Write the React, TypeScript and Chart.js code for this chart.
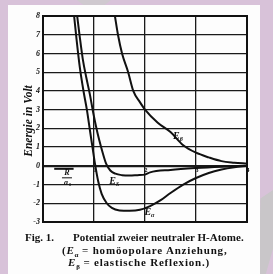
import React, { useEffect, useRef } from "react";
import { Chart, registerables } from "chart.js";
Chart.register(...registerables);

// E_alpha: homöopolare Anziehung
const alphaX = [0.61, 0.66, 0.72, 0.8, 0.86, 0.92, 0.97, 1.02, 1.08, 1.15, 1.25, 1.35, 1.5, 1.7, 1.9, 2.1, 2.3, 2.5, 2.75, 3.0, 3.25, 3.5, 3.75, 4.0];
const alphaY = [8, 6.7, 5.3, 3.9, 3.0, 1.9, 1.0, 0.1, -0.8, -1.5, -2.0, -2.25, -2.38, -2.4, -2.35, -2.15, -1.85, -1.45, -1.0, -0.65, -0.38, -0.2, -0.08, 0];
// E_S
const sX = [0.67, 0.72, 0.78, 0.85, 0.92, 0.98, 1.04, 1.1, 1.17, 1.24, 1.32, 1.42, 1.55, 1.7, 1.85, 2.0, 2.1, 2.5, 3.0, 3.5, 4.0];
const sY = [8, 6.9, 5.7, 4.7, 3.8, 2.9, 2.1, 1.4, 0.7, 0.1, -0.25, -0.42, -0.5, -0.52, -0.5, -0.47, -0.35, -0.22, -0.12, -0.05, 0];
// E_beta: elastische Reflexion
const betaX = [1.41, 1.47, 1.55, 1.67, 1.77, 1.9, 2.0, 2.25, 2.5, 2.75, 3.0, 3.25, 3.5, 3.75, 4.0];
const betaY = [8, 7, 6, 5, 4, 3.4, 3.0, 2.3, 1.8, 1.1, 0.7, 0.45, 0.25, 0.17, 0.12];

const yMin = -3;
const yMax = 8;
const xMin = 0;
const xMax = 4;
const xTickValues = [1, 2, 3, 4];
const xTickLabels = ["1", "2", "3", "4"];
const yTitle = "Energie in Volt";
const curveLabels = [
  { base: "E", sub: "β", x: 2.68, y: 1.55 },
  { base: "E", sub: "S", x: 1.43, y: -0.85 },
  { base: "E", sub: "α", x: 2.12, y: -2.5 },
];
const captionFig = "Fig. 1.";
const captionLine1 = "Potential zweier neutraler H-Atome.";

const SERIF = "'Liberation Serif', 'DejaVu Serif', serif";

const toPts = (xs: number[], ys: number[]) => xs.map((x, i) => ({ x, y: ys[i] }));

const textPlugin = {
  id: "textPlugin",
  afterDraw(chart: any) {
    const { ctx, chartArea, scales } = chart;
    const xs = scales.x;
    const ys = scales.y;
    ctx.save();
    // frame
    ctx.strokeStyle = "#111";
    ctx.lineWidth = 2;
    ctx.strokeRect(chartArea.left, chartArea.top, chartArea.right - chartArea.left, chartArea.bottom - chartArea.top);
    // y title
    ctx.save();
    ctx.translate(29, (chartArea.top + chartArea.bottom) / 2 + 2);
    ctx.rotate(-Math.PI / 2);
    ctx.fillStyle = "#111";
    ctx.font = `italic bold 11.5px ${SERIF}`;
    ctx.textAlign = "center";
    ctx.textBaseline = "middle";
    ctx.fillText(yTitle, 0, 0);
    ctx.restore();
    // x labels below zero line
    ctx.fillStyle = "#111";
    ctx.font = `bold 6px ${SERIF}`;
    ctx.textAlign = "center";
    ctx.textBaseline = "middle";
    const y0 = ys.getPixelForValue(0);
    xTickValues.forEach((v, i) => {
      ctx.fillText(xTickLabels[i], xs.getPixelForValue(v) + 1, y0 + 5);
    });
    // R / a0
    const rx = xs.getPixelForValue(0.47);
    ctx.font = `italic bold 8px ${SERIF}`;
    ctx.fillText("R", rx, y0 + 7);
    ctx.lineWidth = 1;
    ctx.beginPath();
    ctx.moveTo(rx - 5, y0 + 12);
    ctx.lineTo(rx + 5, y0 + 12);
    ctx.stroke();
    ctx.fillText("a", rx - 1, y0 + 17);
    ctx.font = `bold 5px ${SERIF}`;
    ctx.fillText("0", rx + 3, y0 + 19);
    ctx.lineWidth = 2;
    ctx.beginPath();
    ctx.moveTo(xs.getPixelForValue(0.22), y0 + 3);
    ctx.lineTo(xs.getPixelForValue(0.6), y0 + 3);
    ctx.stroke();
    // curve labels
    curveLabels.forEach((l) => {
      const px = xs.getPixelForValue(l.x);
      const py = ys.getPixelForValue(l.y);
      ctx.font = `italic bold 10px ${SERIF}`;
      ctx.textAlign = "right";
      ctx.fillText(l.base, px, py);
      ctx.font = `italic bold 6px ${SERIF}`;
      ctx.textAlign = "left";
      ctx.fillText(l.sub, px, py + 3);
    });
    ctx.restore();
  },
};

export default function App() {
  const ref = useRef<HTMLCanvasElement>(null);
  useEffect(() => {
    document.body.style.margin = "0";
    const c = new Chart(ref.current!, {
      type: "line",
      data: {
        datasets: [
          { label: "Eα", data: toPts(alphaX, alphaY) },
          { label: "ES", data: toPts(sX, sY) },
          { label: "Eβ", data: toPts(betaX, betaY) },
        ].map((d) => ({
          ...d,
          borderColor: "#111",
          borderWidth: 2,
          pointRadius: 0,
          tension: 0.4,
          cubicInterpolationMode: "monotone" as const,
          fill: false,
        })),
      },
      options: {
        animation: false,
        responsive: false,
        events: [],
        layout: { padding: { left: 0, top: 16, right: 26, bottom: 52 } },
        plugins: { legend: { display: false }, tooltip: { enabled: false } },
        scales: {
          x: {
            type: "linear",
            min: xMin,
            max: xMax,
            ticks: { display: false, stepSize: 1 },
            grid: { color: "#1a1a1a", lineWidth: 1.3, drawTicks: false },
            border: { display: false },
            afterFit: (s: any) => {
              s.height = 0;
            },
          },
          y: {
            min: yMin,
            max: yMax,
            ticks: {
              stepSize: 1,
              padding: 3,
              color: "#111",
              font: { family: SERIF, size: 8, weight: "bold", style: "italic" },
            },
            grid: {
              color: "#1a1a1a",
              lineWidth: (ctx: any) => (ctx.tick && ctx.tick.value === 0 ? 2.2 : 1.3),
              drawTicks: false,
            },
            border: { display: false },
            afterFit: (s: any) => {
              s.width = 43;
            },
          },
        },
      },
      plugins: [textPlugin],
    });
    return () => c.destroy();
  }, []);

  const cap: React.CSSProperties = {
    position: "absolute",
    fontFamily: SERIF,
    fontWeight: "bold",
    fontSize: "11px",
    color: "#111",
    whiteSpace: "pre",
    lineHeight: "12px",
  };

  return (
    <div style={{ position: "relative", width: 273, height: 274, background: "#d8c2d9", overflow: "hidden" }}>
      <div style={{ position: "absolute", left: 77, top: 0, width: 34, height: 8, background: "#cfc9cf", clipPath: "polygon(0 0,100% 0,70% 100%,30% 100%)" }} />
      <div style={{ position: "absolute", left: 255, top: 190, width: 18, height: 84, background: "#c9c6c9", clipPath: "polygon(30% 10%,100% 0,100% 70%,60% 100%,20% 100%)" }} />
      <div style={{ position: "absolute", left: 8, top: 5, width: 252, height: 269, background: "#fdfdfd" }} />
      <canvas ref={ref} width={273} height={274} style={{ position: "absolute", left: 0, top: 0 }} />
      <div style={{ ...cap, left: 25, top: 231 }}>{captionFig}</div>
      <div style={{ ...cap, left: 73, top: 231 }}>{captionLine1}</div>
      <div style={{ ...cap, left: 62, top: 244, letterSpacing: "0.8px" }}>
        (<i>E</i><sub style={{ fontSize: "7px", letterSpacing: 0 }}>α</sub> = homöopolare Anziehung,
      </div>
      <div style={{ ...cap, left: 68, top: 256, letterSpacing: "0.8px" }}>
        <i>E</i><sub style={{ fontSize: "7px", letterSpacing: 0 }}>β</sub> = elastische Reflexion.)
      </div>
    </div>
  );
}
